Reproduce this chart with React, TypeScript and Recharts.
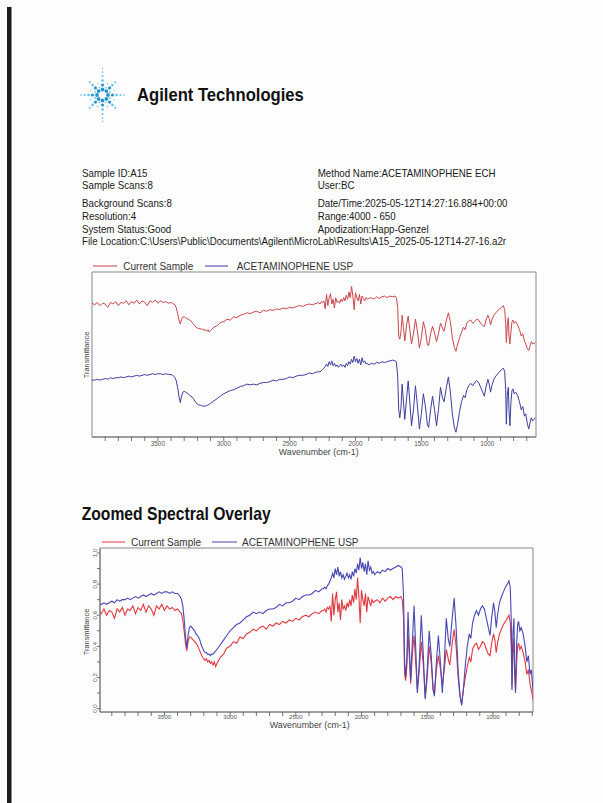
import React from 'react';
import { LineChart, Line, XAxis, YAxis, ReferenceArea } from 'recharts';

// ---------------- data ----------------
const wavenumbers = [
  4000, 3980, 3960, 3940, 3920, 3900, 3880, 3860, 3840, 3820,
  3800, 3780, 3760, 3740, 3720, 3700, 3680, 3660, 3640, 3620,
  3600, 3580, 3560, 3540, 3520, 3500, 3480, 3460, 3440, 3420, 3400,
  3390, 3380, 3370, 3360, 3350, 3340, 3330, 3320, 3310, 3300,
  3290, 3280, 3270, 3260, 3250, 3240, 3230, 3220, 3210, 3200,
  3190, 3180, 3170, 3160, 3150, 3140, 3130, 3120, 3110, 3100,
  3075, 3050, 3025, 3000, 2975, 2950, 2925, 2900, 2875, 2850,
  2825, 2800, 2775, 2750, 2725, 2700, 2675, 2650, 2625, 2600,
  2575, 2550, 2525, 2500, 2475, 2450, 2425, 2400, 2375, 2350, 2325, 2300,
  2290, 2280, 2270, 2260, 2250, 2240, 2230, 2220, 2210, 2200,
  2190, 2180, 2170, 2160, 2150, 2140, 2130, 2120, 2110, 2100,
  2090, 2080, 2070, 2060, 2050, 2040, 2030, 2020, 2010, 2000,
  1990, 1980, 1970, 1960, 1950, 1940, 1930, 1920, 1910, 1900,
  1880, 1860, 1840, 1820, 1800, 1780, 1760, 1740, 1720, 1700,
  1690, 1680, 1672, 1664, 1655, 1646, 1636, 1626, 1612, 1600,
  1588, 1575, 1560, 1545, 1530, 1515, 1500, 1485, 1470, 1455,
  1445, 1430, 1415, 1400, 1385, 1370, 1355, 1340, 1328, 1310,
  1295, 1280, 1265, 1250, 1238, 1225, 1210, 1195, 1180, 1168,
  1155, 1140, 1125, 1110, 1095, 1080, 1065, 1050, 1035, 1022,
  1010, 995, 985, 975, 965, 950, 935, 920, 905, 890,
  878, 868, 860, 855, 848, 840, 835, 828, 820, 812,
  805, 795, 785, 770, 755, 742, 730, 718, 708, 695,
  685, 675, 665, 655, 645, 635,
];

const currentSample = [
  0.63, 0.61, 0.64, 0.60, 0.63, 0.62, 0.58, 0.64, 0.62, 0.65,
  0.60, 0.64, 0.63, 0.66, 0.61, 0.65, 0.63, 0.67, 0.62, 0.66,
  0.64, 0.60, 0.66, 0.64, 0.67, 0.63, 0.66, 0.64, 0.65, 0.63, 0.64,
  0.63, 0.62, 0.61, 0.57, 0.50, 0.42, 0.37, 0.43, 0.46, 0.46,
  0.45, 0.44, 0.43, 0.42, 0.41, 0.39, 0.37, 0.35, 0.33, 0.32,
  0.31, 0.32, 0.30, 0.31, 0.29, 0.30, 0.28, 0.30, 0.27, 0.29,
  0.33, 0.35, 0.39, 0.40, 0.43, 0.42, 0.46, 0.45, 0.48, 0.49,
  0.51, 0.50, 0.52, 0.53, 0.51, 0.54, 0.53, 0.55, 0.54, 0.56,
  0.55, 0.57, 0.56, 0.58, 0.57, 0.59, 0.60, 0.59, 0.61, 0.62, 0.61, 0.63,
  0.63, 0.64, 0.62, 0.65, 0.64, 0.66, 0.56, 0.74, 0.60, 0.70,
  0.75, 0.62, 0.68, 0.57, 0.70, 0.64, 0.66, 0.63, 0.68, 0.65,
  0.70, 0.66, 0.73, 0.68, 0.77, 0.70, 0.84, 0.72, 0.55, 0.76,
  0.70, 0.66, 0.74, 0.62, 0.72, 0.69, 0.66, 0.70, 0.68, 0.69,
  0.70, 0.68, 0.71, 0.69, 0.71, 0.72, 0.70, 0.72, 0.71, 0.72,
  0.70, 0.58, 0.22, 0.18, 0.27, 0.48, 0.33, 0.16, 0.36, 0.47,
  0.30, 0.12, 0.25, 0.43, 0.28, 0.07, 0.20, 0.40, 0.30, 0.12,
  0.10, 0.25, 0.34, 0.26, 0.15, 0.25, 0.38, 0.32, 0.28, 0.42,
  0.51, 0.40, 0.20, 0.08, 0.03, 0.12, 0.20, 0.27, 0.33, 0.30,
  0.38, 0.41, 0.42, 0.38, 0.40, 0.43, 0.42, 0.38, 0.35, 0.34,
  0.42, 0.48, 0.44, 0.36, 0.42, 0.48, 0.51, 0.54, 0.56, 0.58,
  0.60, 0.55, 0.38, 0.14, 0.35, 0.45, 0.22, 0.12, 0.28, 0.40,
  0.42, 0.38, 0.40, 0.36, 0.30, 0.22, 0.25, 0.16, 0.12, 0.06,
  0.04, 0.10, 0.15, 0.12, 0.13, 0.14,
];

const acetaminophenUsp = [
  0.67, 0.67, 0.68, 0.67, 0.68, 0.69, 0.68, 0.70, 0.69, 0.70,
  0.70, 0.71, 0.70, 0.71, 0.72, 0.71, 0.72, 0.73, 0.72, 0.73,
  0.74, 0.73, 0.74, 0.75, 0.74, 0.75, 0.75, 0.74, 0.75, 0.74, 0.74,
  0.73, 0.72, 0.70, 0.66, 0.58, 0.47, 0.39, 0.47, 0.52, 0.53,
  0.52, 0.51, 0.50, 0.48, 0.47, 0.46, 0.44, 0.41, 0.39, 0.37,
  0.36, 0.36, 0.35, 0.35, 0.34, 0.35, 0.35, 0.36, 0.37, 0.38,
  0.41, 0.44, 0.47, 0.50, 0.52, 0.54, 0.55, 0.57, 0.59, 0.60,
  0.62, 0.61, 0.62, 0.61, 0.63, 0.64, 0.64, 0.65, 0.67, 0.66,
  0.68, 0.68, 0.69, 0.71, 0.70, 0.72, 0.73, 0.73, 0.74, 0.76, 0.75, 0.77,
  0.77, 0.78, 0.77, 0.79, 0.80, 0.82, 0.84, 0.87, 0.84, 0.90,
  0.86, 0.91, 0.85, 0.88, 0.84, 0.86, 0.83, 0.85, 0.87, 0.84,
  0.86, 0.83, 0.88, 0.85, 0.90, 0.87, 0.93, 0.89, 0.97, 0.90,
  0.94, 0.88, 0.93, 0.86, 0.95, 0.89, 0.91, 0.87, 0.88, 0.86,
  0.88, 0.87, 0.89, 0.88, 0.90, 0.89, 0.90, 0.91, 0.92, 0.91,
  0.90, 0.72, 0.30, 0.20, 0.32, 0.62, 0.40, 0.18, 0.45, 0.66,
  0.40, 0.10, 0.30, 0.60, 0.35, 0.06, 0.25, 0.50, 0.35, 0.12,
  0.08, 0.30, 0.47, 0.30, 0.10, 0.30, 0.58, 0.45, 0.40, 0.58,
  0.71, 0.52, 0.25, 0.08, 0.02, 0.12, 0.28, 0.40, 0.48, 0.45,
  0.55, 0.60, 0.63, 0.60, 0.64, 0.66, 0.64, 0.58, 0.52, 0.47,
  0.58, 0.68, 0.62, 0.52, 0.60, 0.68, 0.72, 0.75, 0.78, 0.80,
  0.82, 0.78, 0.55, 0.12, 0.48, 0.58, 0.30, 0.10, 0.40, 0.54,
  0.56, 0.50, 0.52, 0.48, 0.40, 0.30, 0.34, 0.22, 0.25, 0.12,
  0.06, 0.14, 0.20, 0.16, 0.18, 0.20,
];

const xTicks = [
  700, 800, 900, 1000, 1100, 1200, 1300, 1400, 1500, 1600, 1700, 1800, 1900,
  2000, 2100, 2200, 2300, 2400, 2500, 2600, 2700, 2800, 2900, 3000, 3100,
  3200, 3300, 3400, 3500, 3600, 3700, 3800, 3900,
];
const yTicksZoomed = [0, 0.1, 0.2, 0.3, 0.4, 0.5, 0.6, 0.7, 0.8, 0.9, 1.0];

const seriesNames = ['Current Sample', 'ACETAMINOPHENE USP'];
const infoLeft = ['Sample ID:A15', 'Sample Scans:8', 'Background Scans:8', 'Resolution:4', 'System Status:Good'];
const infoRight = [
  'Method Name:ACETAMINOPHENE ECH',
  'User:BC',
  'Date/Time:2025-05-12T14:27:16.884+00:00',
  'Range:4000 - 650',
  'Apodization:Happ-Genzel',
];
const fileLocation = 'File Location:C:\\Users\\Public\\Documents\\Agilent\\MicroLab\\Results\\A15_2025-05-12T14-27-16.a2r';
const infoRowsY = [173.3, 185.3, 203.3, 216, 228.7];

const data = wavenumbers.map((wn, i) => ({ wn, cur: currentSample[i], usp: acetaminophenUsp[i] }));

const FONT = "'Liberation Sans', Arial, Helvetica, sans-serif";

function T(props: any) {
  const { x, cy, size, children, bold = false, sx = 1, fill = '#1a1a1a', anchor = 'start' } = props;
  const baseline = cy + 0.358 * size;
  return (
    <text
      transform={`translate(${x},${baseline}) scale(${sx},1)`}
      fontSize={size}
      fontWeight={bold ? 700 : 400}
      fontFamily={FONT}
      fill={fill}
      textAnchor={anchor}
    >
      {children}
    </text>
  );
}

function VT(props: any) {
  const { x, cy, size, children, fill = '#444' } = props;
  return (
    <text
      transform={`translate(${x},${cy}) rotate(-90)`}
      fontSize={size}
      fontFamily={FONT}
      fill={fill}
      textAnchor="middle"
      dy={0.358 * size}
    >
      {children}
    </text>
  );
}

function Spark({ cx, cy }: { cx: number; cy: number }) {
  const dots: any[] = [];
  const sizes = [1.9, 1.6, 1.3, 1.05, 0.85, 0.65];
  [0, 45, 90, 135, 180, 225, 270, 315].forEach((a) => {
    const rad = (a * Math.PI) / 180;
    const vertical = a === 90 || a === 270;
    const horiz = a === 0 || a === 180;
    const radii = vertical ? [5.5, 10, 14.5, 19, 23, 26.5] : horiz ? [5.5, 10, 14, 18, 21.5] : [5.5, 10, 14, 18];
    radii.forEach((r, i) => {
      dots.push(
        <circle key={`s${a}-${i}`} cx={cx + r * Math.cos(rad)} cy={cy - r * Math.sin(rad)} r={sizes[i]}
          fill={i < 2 ? '#2596cc' : '#62c1e8'} />
      );
    });
  });
  [22.5, 67.5, 112.5, 157.5, 202.5, 247.5, 292.5, 337.5].forEach((a) => {
    const rad = (a * Math.PI) / 180;
    [8, 12.5].forEach((r, i) => {
      dots.push(
        <circle key={`m${a}-${i}`} cx={cx + r * Math.cos(rad)} cy={cy - r * Math.sin(rad)} r={[0.95, 0.7][i]}
          fill="#7accec" />
      );
    });
  });
  return <g>{dots}</g>;
}

function makeXTick(fontSize: number, labelDy: number) {
  return (p: any) => {
    const v = p.payload.value;
    const major = v % 500 === 0;
    return (
      <g>
        <line x1={p.x} x2={p.x} y1={p.y} y2={p.y + 4} stroke="#555" strokeWidth={0.8} />
        {major ? (
          <text x={p.x} y={p.y + labelDy} textAnchor="middle" fontSize={fontSize} fill="#555" fontFamily={FONT}>
            {v}
          </text>
        ) : null}
      </g>
    );
  };
}

function YTickZoomed(p: any) {
  const v = p.payload.value;
  const major = Math.round(v * 10) % 2 === 0;
  const lx = p.x - 3.5;
  return (
    <g>
      <line x1={p.x - 3} x2={p.x} y1={p.y} y2={p.y} stroke="#555" strokeWidth={0.8} />
      {major ? (
        <text transform={`translate(${lx},${p.y}) rotate(-90)`} textAnchor="middle" fontSize={6.2} fill="#555" fontFamily={FONT}>
          {v.toFixed(1)}
        </text>
      ) : null}
    </g>
  );
}

const RED1 = '#c9474d';
const BLUE1 = '#3e3e9e';
const RED2 = '#e03a40';
const BLUE2 = '#4848b6';

function Legend({ y, redX, redText, blueX, blueText, red, blue }: any) {
  return (
    <g>
      <line x1={redX[0]} x2={redX[1]} y1={y} y2={y} stroke={red} strokeWidth={1} />
      <T x={redText} cy={y} size={10} fill="#333">{seriesNames[0]}</T>
      <line x1={blueX[0]} x2={blueX[1]} y1={y} y2={y} stroke={blue} strokeWidth={1} />
      <T x={blueText} cy={y} size={10} fill="#333">{seriesNames[1]}</T>
    </g>
  );
}

export default function App() {
  return (
    <div style={{ position: 'absolute', left: 0, top: 0, width: 603, height: 803, background: '#fdfdfd', overflow: 'hidden' }}>
      <svg width={603} height={803} style={{ position: 'absolute', left: 0, top: 0 }}>
        <rect x={7} y={7} width={4} height={796} fill="#1c1b1e" />
        <rect x={11} y={7} width={1} height={796} fill="#8a8a90" />
        <Spark cx={102.5} cy={95} />
        <T x={137} cy={94.7} size={17.7} bold sx={0.94} fill="#111">Agilent Technologies</T>
        {infoLeft.map((s, i) => (
          <T key={`l${i}`} x={82} cy={infoRowsY[i]} size={11.2} sx={0.87}>{s}</T>
        ))}
        {infoRight.map((s, i) => (
          <T key={`r${i}`} x={317.7} cy={infoRowsY[i]} size={11.2} sx={0.87}>{s}</T>
        ))}
        <T x={82} cy={241} size={11.2} sx={0.87}>{fileLocation}</T>

        <Legend y={266} redX={[93, 117]} redText={123.3} blueX={[205, 228]} blueText={236.7} red={RED1} blue={BLUE1} />
        <VT x={86.5} cy={355} size={7.4}>Transmittance</VT>
        <T x={318.7} cy={452} size={8.8} fill="#444" anchor="middle">Wavenumber (cm-1)</T>

        <T x={81.7} cy={513.3} size={18.6} bold sx={0.843} fill="#111">Zoomed Spectral Overlay</T>

        <Legend y={542} redX={[102, 125]} redText={131} blueX={[212, 237]} blueText={242} red={RED2} blue={BLUE2} />
        <VT x={86} cy={632} size={7.4}>Transmittance</VT>
        <T x={309.7} cy={725.3} size={8.8} fill="#444" anchor="middle">Wavenumber (cm-1)</T>
      </svg>

      <div style={{ position: 'absolute', left: 60, top: 255 }}>
        <LineChart width={490} height={215} data={data} margin={{ top: 17, right: 14, bottom: 3, left: 32 }}>
          <XAxis
            dataKey="wn"
            type="number"
            domain={[630, 4000]}
            reversed
            allowDataOverflow
            ticks={xTicks}
            interval={0}
            tickSize={0}
            tickMargin={0}
            tickLine={false}
            axisLine={{ stroke: '#777' }}
            height={30}
            tick={makeXTick(6.4, 9.3)}
          />
          <YAxis yAxisId="cur" hide domain={[-1.04, 1.02]} allowDataOverflow />
          <YAxis yAxisId="usp" hide domain={[-0.04, 2.02]} allowDataOverflow />
          <ReferenceArea yAxisId="usp" x1={630} x2={4000} y1={-0.04} y2={2.02} fill="none" stroke="#888" strokeWidth={1} ifOverflow="visible" />
          <Line yAxisId="cur" dataKey="cur" type="linear" stroke={RED1} strokeWidth={1} dot={false} activeDot={false} isAnimationActive={false} />
          <Line yAxisId="usp" dataKey="usp" type="linear" stroke={BLUE1} strokeWidth={1} dot={false} activeDot={false} isAnimationActive={false} />
        </LineChart>
      </div>

      <div style={{ position: 'absolute', left: 60, top: 530 }}>
        <LineChart width={490} height={205} data={data} margin={{ top: 18, right: 17, bottom: 0, left: 0 }}>
          <XAxis
            dataKey="wn"
            type="number"
            domain={[695, 3990]}
            reversed
            allowDataOverflow
            ticks={xTicks}
            interval={0}
            tickSize={0}
            tickMargin={0}
            tickLine={false}
            axisLine={{ stroke: '#777' }}
            height={23}
            tick={makeXTick(6.1, 7.3)}
          />
          <YAxis
            type="number"
            domain={[-0.022, 1.032]}
            allowDataOverflow
            ticks={yTicksZoomed}
            interval={0}
            width={40}
            tickSize={0}
            tickMargin={0}
            tickLine={false}
            axisLine={{ stroke: '#777' }}
            tick={YTickZoomed}
          />
          <ReferenceArea x1={695} x2={3990} y1={-0.022} y2={1.032} fill="none" stroke="#888" strokeWidth={1} ifOverflow="visible" />
          <Line dataKey="cur" type="linear" stroke={RED2} strokeWidth={1.1} dot={false} activeDot={false} isAnimationActive={false} />
          <Line dataKey="usp" type="linear" stroke={BLUE2} strokeWidth={1.1} dot={false} activeDot={false} isAnimationActive={false} />
        </LineChart>
      </div>
    </div>
  );
}
